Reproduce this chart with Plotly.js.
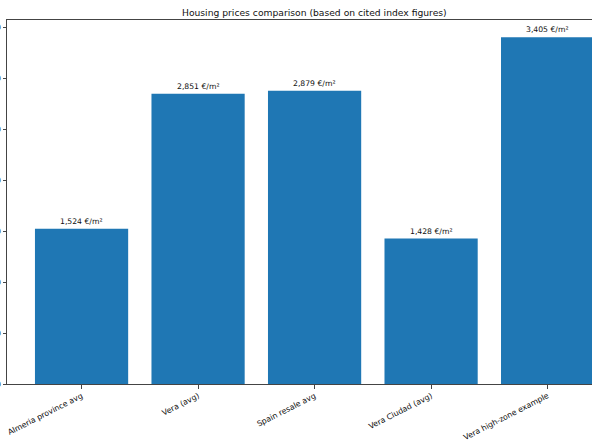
<!DOCTYPE html>
<html>
<head>
<meta charset="utf-8">
<script src="https://cdn.plot.ly/plotly-3.0.1.min.js"></script>
<style>
  html, body { margin: 0; padding: 0; background: #fff; }
  #chart { width: 592px; height: 444px; }
</style>
</head>
<body>
<div id="chart"></div>
<script>
// Price per m² for each area
const categories = [
  'Almeria province avg',
  'Vera (avg)',
  'Spain resale avg',
  'Vera Ciudad (avg)',
  'Vera high-zone example',
];
const pricePerM2 = [1524, 2851, 2879, 1428, 3405];
const yTickVals = [0, 500, 1000, 1500, 2000, 2500, 3000, 3500];

const BAR_BLUE = '#1f77b4';
const FONT = 'DejaVu Sans, sans-serif';
const INK = '#111';

const labelFor = v => v.toLocaleString('en-US') + ' €/m²';

const traces = [
  {
    type: 'bar',
    x: categories,
    y: pricePerM2,
    width: 0.8,
    marker: { color: BAR_BLUE, line: { width: 0 } },
    hoverinfo: 'x+y',
  },
];

// value labels sitting just above each bar
const annotations = categories.map((c, i) => ({
  x: c,
  y: pricePerM2[i],
  xref: 'x',
  yref: 'y',
  text: labelFor(pricePerM2[i]),
  showarrow: false,
  yanchor: 'bottom',
  yshift: 1,
  font: { family: FONT, size: 7.7, color: INK },
}));

const layout = {
  width: 592,
  height: 444,
  paper_bgcolor: '#fff',
  plot_bgcolor: '#fff',
  font: { family: FONT, color: INK },
  margin: { t: 20, r: 0, b: 60, l: 7 },
  showlegend: false,
  title: {
    text: 'Housing prices comparison (based on cited index figures)',
    font: { family: FONT, size: 9.2, color: INK },
    xref: 'container',
    yref: 'container',
    x: 0.531,
    xanchor: 'center',
    y: 0.972,
    yanchor: 'middle',
  },
  xaxis: {
    type: 'category',
    range: [-0.64, 4.381],
    showline: true,
    mirror: true,
    linecolor: '#444',
    linewidth: 1,
    ticks: 'outside',
    ticklen: 3.5,
    tickcolor: '#444',
    tickangle: -27,
    tickfont: { family: FONT, size: 7.8, color: INK },
    showgrid: false,
    zeroline: false,
    automargin: false,
  },
  yaxis: {
    range: [0, 3575],
    tickvals: yTickVals,
    showline: true,
    mirror: false,
    linecolor: '#444',
    linewidth: 1,
    ticks: 'outside',
    ticklen: 3.5,
    tickcolor: '#444',
    tickfont: { family: FONT, size: 7.8, color: INK },
    showgrid: false,
    zeroline: false,
    automargin: false,
  },
  annotations: annotations,
  bargap: 0.2,
};

Plotly.newPlot('chart', traces, layout, { staticPlot: true, displayModeBar: false });
</script>
</body>
</html>
